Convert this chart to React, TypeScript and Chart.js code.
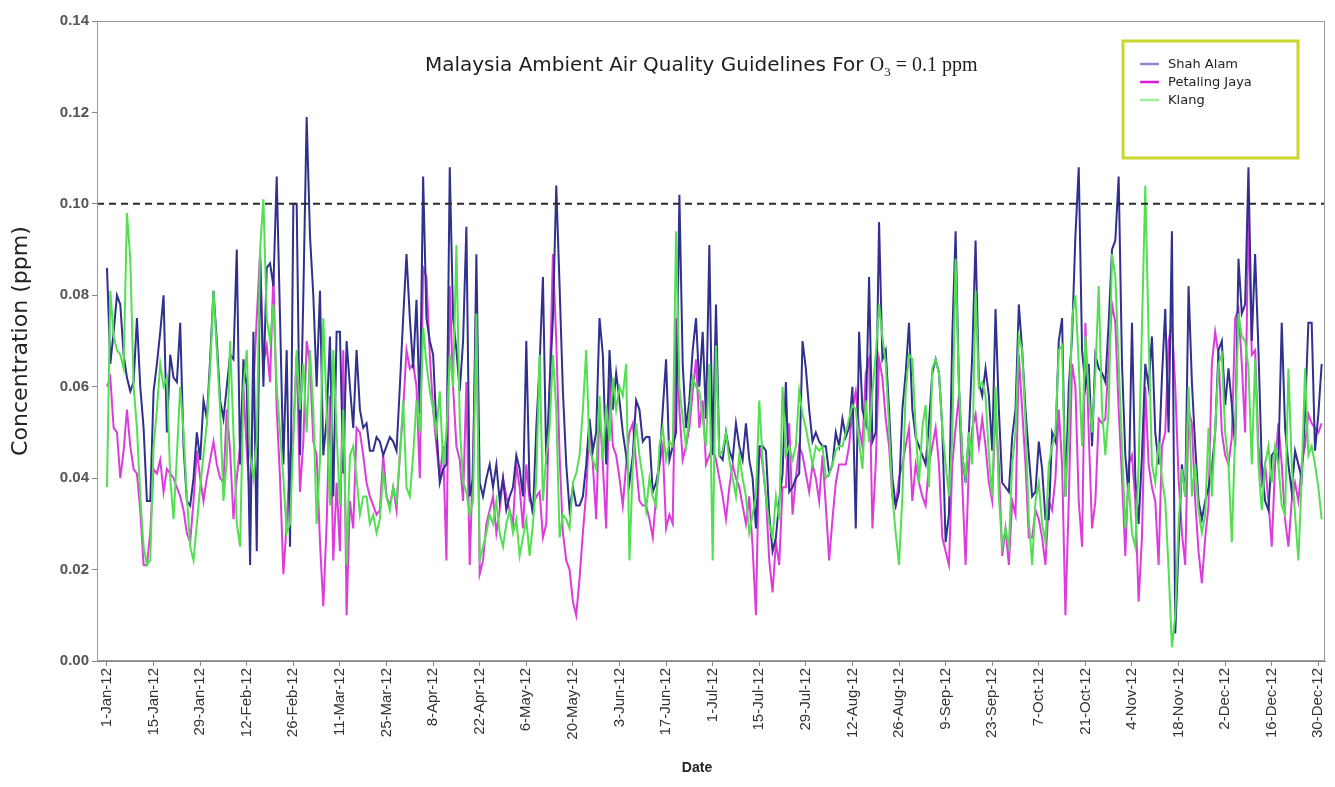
import React, { useEffect, useRef } from "react";
import { Chart, registerables } from "chart.js";

Chart.register(...registerables);

const tickLabels = [
  "1-Jan-12", "15-Jan-12", "29-Jan-12", "12-Feb-12", "26-Feb-12", "11-Mar-12", "25-Mar-12",
  "8-Apr-12", "22-Apr-12", "6-May-12", "20-May-12", "3-Jun-12", "17-Jun-12", "1-Jul-12",
  "15-Jul-12", "29-Jul-12", "12-Aug-12", "26-Aug-12", "9-Sep-12", "23-Sep-12", "7-Oct-12",
  "21-Oct-12", "4-Nov-12", "18-Nov-12", "2-Dec-12", "16-Dec-12", "30-Dec-12",
];
const tickStepDays = 14;

const seriesNames = ["Shah Alam", "Petaling Jaya", "Klang"];

// daily O3 concentration, in ppb (divided by 1000 to give ppm), 1 Jan – 31 Dec 2012
const shahAlam = [
  86, 65, 72, 80, 78, 67, 62, 59, 61, 75, 60, 51, 35, 35,
  59, 65, 72, 80, 50, 67, 62, 61, 74, 47, 35, 34, 40, 50, 44, 57, 53, 66, 81, 70, 57,
  53, 60, 67, 66, 90, 43, 66, 60, 21, 72, 24, 89, 60, 86, 87, 82, 106, 75, 43, 68, 25, 100, 100, 45, 80, 119,
  93, 80, 60, 81, 45, 53, 71, 36, 72, 72, 41,
  70, 60, 51, 68, 55, 51, 52, 46, 46, 49, 48, 45, 47, 49, 48, 46, 60, 75, 89, 75, 64, 79, 54, 106, 75, 70, 67, 51, 39, 42, 43, 108, 75, 68, 59, 70, 95, 36, 40, 89, 39,
  36, 40, 43, 38, 43, 35, 40, 33, 36, 38, 45, 42, 36, 70, 37, 32, 51, 65,
  84, 43, 60, 75, 104, 82, 59, 43, 33, 38, 34, 34, 36, 43, 53, 46, 50, 75, 67, 43, 68, 55, 63, 57, 50, 45, 39, 45, 57, 55, 48, 49, 49, 37, 39, 43, 55, 66, 44, 47, 50, 102,
  65, 51, 57, 68, 75, 60, 72, 53,
  91,
  45, 78, 45, 44, 50, 46, 44, 52, 47, 44, 52, 44, 40,
  29, 47, 47, 46, 32, 24, 27, 35, 41, 61, 37, 38, 40, 41, 70, 64, 55, 48, 50, 48, 47, 47, 41, 43, 50, 47, 53, 49, 51, 60, 29, 72, 55, 52, 84, 48, 50, 96, 66, 68, 55, 40, 34, 37, 55, 63, 74, 55, 49, 47, 45, 43, 52, 63, 66, 63, 51, 26, 32, 71, 94, 60, 45, 39, 50, 67, 92, 61,
  58, 64, 58, 46, 77, 55, 39, 38, 37, 49, 55, 78, 68, 55, 45, 36, 37, 48, 42, 31, 31, 50, 48, 70,
  75, 36, 60, 71, 93, 108, 68, 60, 65, 47, 67, 64, 63, 61, 74, 90, 92, 106, 65, 45, 36, 74, 40, 30, 45, 65, 60, 71, 50, 43, 62, 77, 50, 94, 6, 25, 43, 36, 82, 61, 47, 35, 31, 35, 38, 42, 50, 68, 70, 56, 64, 56, 47, 88, 76, 78, 108, 70, 89, 68, 43, 35, 33, 45,
  46, 44, 74, 51, 43, 37, 46, 43, 40, 54, 74, 74, 46, 54, 65,
];

const petalingJaya = [
  60, 62, 51, 50, 40, 46, 55, 47, 42, 41, 33, 21, 21, 28,
  42, 41, 44, 37, 42, 41, 40, 38, 36, 33, 28, 26, 35, 46, 40, 35, 40, 44, 48, 43, 40,
  39, 55, 46, 31, 40, 47, 60, 46, 35, 60, 75, 89, 65, 69, 61, 85, 55, 40, 19, 30, 45, 50, 67, 37, 48, 70,
  65, 48, 45, 26, 12, 30, 58, 22, 39, 24, 68,
  10, 35, 29, 51, 50, 45, 39, 36, 34, 32, 33, 45, 36, 34, 38, 33, 45, 55, 68, 64, 65, 60, 40, 86, 84, 67, 55, 47, 40, 47, 22, 82, 60, 47, 44, 35, 61, 21, 45, 78, 19,
  22, 30, 33, 36, 28, 33, 40, 36, 33, 30, 43, 38, 29, 43, 35, 34, 36, 37,
  27, 30, 60, 89, 70, 45, 28, 22, 20, 13, 10, 18, 28, 37, 52, 43, 31, 55, 43, 29, 62, 47, 45, 40, 34, 43, 50, 52, 43, 35, 34, 34, 31, 27, 36, 43, 47, 29, 32, 30, 75, 55,
  44, 47, 51, 59, 66, 51, 57, 43,
  45,
  47, 44, 40, 36, 31, 38, 43, 40, 38, 34, 30, 36, 25,
  10, 47, 43, 36, 22, 15, 26, 21, 38, 38, 52, 32, 40, 47, 45, 41, 37, 43, 40, 35, 45, 34, 22, 31, 39, 43, 43, 43, 47, 55, 59, 51, 47, 63, 66, 29, 43, 66, 62, 53, 47, 36, 34, 40, 43, 47, 51, 35, 43, 39, 36, 34, 43, 47, 51, 43, 27, 24, 21, 43, 51, 58, 39, 21, 43, 51, 54, 47,
  53, 47, 39, 35, 55, 43, 23, 29, 21, 35, 32, 67, 55, 43, 27, 27, 33, 31, 27, 21, 35, 33, 40, 55,
  43, 10, 35, 65, 60, 35, 25, 74, 50, 29, 35, 53, 52, 53, 66, 78, 74, 55, 40, 23, 43, 45, 35, 13, 27, 60, 43, 38, 35, 21, 47, 50, 70, 74, 60, 40, 28, 21, 55, 52, 35, 24, 17, 27, 34, 65, 72, 67, 50, 45, 43, 49, 75, 77, 65, 50, 98, 67, 68, 47, 39, 43, 35, 25,
  43, 52, 43, 31, 25, 35, 39, 35, 43, 47, 54, 52, 51, 50, 52,
];

const klang = [
  38, 81, 71, 68, 67, 64, 98, 88, 60, 51, 36, 25, 21, 22,
  47, 55, 65, 60, 62, 40, 31, 45, 60, 50, 36, 25, 22, 30, 38, 45, 52, 64, 81, 68, 55,
  35, 44, 70, 50, 30, 25, 60, 68, 45, 40, 48, 90, 101, 75, 70, 78, 60, 50, 40, 28, 30, 48, 68, 55, 65, 50,
  68, 55, 30, 44, 75, 55, 34, 68, 50, 34, 55,
  21, 45, 47, 40, 32, 36, 36, 30, 32, 28, 31, 41, 36, 33, 38, 35, 45, 57, 38, 36, 45, 57, 50, 73, 65, 59, 55, 50, 59, 43, 50, 67, 60, 91, 52, 39, 37, 32, 35, 76, 22,
  25, 28, 32, 30, 35, 28, 25, 30, 33, 28, 31, 23, 27, 31, 23, 30, 40, 67,
  35, 45, 51, 67, 55, 27, 32, 31, 29, 39, 41, 45, 55, 68, 46, 44, 42, 58, 44, 56, 48, 62, 55, 60, 58, 65, 22, 43, 52, 45, 40, 33, 40, 36, 34, 47, 51, 44, 48, 47, 94, 60,
  53, 47, 54, 62, 60, 59, 53, 47,
  65,
  22, 69, 45, 46, 50, 44, 40, 36, 45, 40, 36, 28, 32,
  36, 57, 44, 36, 30, 27, 36, 31, 60, 45, 47, 44, 47, 59, 54, 51, 47, 43, 47, 46, 47, 40, 41, 43, 46, 47, 47, 50, 53, 56, 55, 48, 42, 57, 48, 59, 67, 78, 71, 65, 51, 36, 28, 21, 36, 59, 67, 66, 51, 39, 51, 56, 38, 64, 66, 63, 51, 43, 36, 49, 88, 60, 45, 40, 50, 43, 81, 60,
  61, 58, 45, 36, 60, 36, 25, 29, 25, 43, 50, 71, 68, 52, 31, 21, 35, 39, 30, 26, 43, 47, 50, 68,
  69, 36, 50, 75, 80, 65, 47, 71, 58, 50, 63, 82, 55, 45, 55, 89, 84, 65, 47, 29, 39, 28, 25, 43, 73, 104, 71, 43, 39, 48, 40, 35, 20, 3, 10, 30, 42, 36, 60, 36, 43, 33, 28, 32, 51, 36, 51, 65, 67, 50, 43, 26, 50, 76, 71, 70, 64, 43, 66, 43, 33, 43, 47, 39,
  47, 43, 34, 32, 64, 43, 32, 22, 40, 64, 45, 47, 43, 38, 31,
];

const guidelineValue = 0.1;
const titleSans = "Malaysia Ambient Air Quality Guidelines For ";
const titleO = "O";
const titleSub = "3";
const titleRest = " = 0.1 ppm";
const yAxisTitle = "Concentration (ppm)";
const xAxisTitle = "Date";

const W = 1335;
const H = 787;

const lineColors = ["#30308e", "#dc3cdc", "#52e052"];
const legendColors = ["#8a8ad0", "#d81ed8", "#9ef09e"];
const SANS = "'DejaVu Sans'";
const SANS_WEIGHT = "normal";

function fitSize(text: string, family: string, target: number, weight = "normal") {
  const c = document.createElement("canvas").getContext("2d")!;
  c.font = `${weight} 100px ${family}`;
  const w = c.measureText(text).width;
  return (100 * target) / w;
}

export default function App() {
  const ref = useRef<HTMLCanvasElement | null>(null);

  useEffect(() => {
    const canvas = ref.current;
    if (!canvas) return;
    const titleSize = fitSize(titleSans, SANS, 445, SANS_WEIGHT);
    const yTitleSize = fitSize(yAxisTitle, SANS, 230, SANS_WEIGHT);
    const legendSize = fitSize("Petaling Jaya", SANS, 84, SANS_WEIGHT);

    const tickValues = tickLabels.map((_, i) => i * tickStepDays);
    const toPoints = (arr: number[]) => arr.map((v, i) => ({ x: i, y: v / 1000 }));

    const overlay = {
      id: "overlay",
      afterDatasetsDraw(chart: any) {
        const { ctx, chartArea, scales } = chart;
        const y = scales.y.getPixelForValue(guidelineValue);
        ctx.save();
        ctx.setLineDash([7, 5]);
        ctx.strokeStyle = "#2a2a2a";
        ctx.lineWidth = 2;
        ctx.beginPath();
        ctx.moveTo(chartArea.left, y);
        ctx.lineTo(chartArea.right, y);
        ctx.stroke();
        ctx.restore();
      },
      afterDraw(chart: any) {
        const { ctx, chartArea } = chart;
        ctx.save();
        ctx.strokeStyle = "#9a9a9a";
        ctx.lineWidth = 1;
        ctx.strokeRect(chartArea.left + 0.5, chartArea.top + 0.5, chartArea.width - 1, chartArea.height - 1);

        // x-axis title
        ctx.fillStyle = "#222";
        ctx.font = "bold 14px 'Liberation Sans'";
        ctx.textAlign = "center";
        ctx.textBaseline = "middle";
        ctx.fillText(xAxisTitle, 697, 768);

        // title inside plot
        ctx.fillStyle = "#1e1e1e";
        ctx.textBaseline = "alphabetic";
        ctx.textAlign = "left";
        let x = 425;
        const base = 71;
        ctx.font = `${SANS_WEIGHT} ${titleSize}px ${SANS}`;
        ctx.fillText(titleSans, x, base);
        x += ctx.measureText(titleSans).width;
        ctx.font = "20px 'Liberation Serif'";
        ctx.fillText(titleO, x, base);
        x += ctx.measureText(titleO).width;
        ctx.font = "13px 'Liberation Serif'";
        ctx.fillText(titleSub, x, base + 5);
        x += ctx.measureText(titleSub).width;
        ctx.font = "20px 'Liberation Serif'";
        ctx.fillText(titleRest, x, base);

        // legend box
        const bx = 1123, by = 41, bw = 175, bh = 117;
        ctx.fillStyle = "#ffffff";
        ctx.fillRect(bx, by, bw, bh);
        ctx.strokeStyle = "#cbd52c";
        ctx.lineWidth = 3;
        ctx.strokeRect(bx, by, bw, bh);
        ctx.font = `${SANS_WEIGHT} ${legendSize}px ${SANS}`;
        ctx.textBaseline = "middle";
        seriesNames.forEach((name, i) => {
          const ly = 64 + i * 18;
          ctx.strokeStyle = legendColors[i];
          ctx.lineWidth = 2.5;
          ctx.beginPath();
          ctx.moveTo(1140, ly);
          ctx.lineTo(1159, ly);
          ctx.stroke();
          ctx.fillStyle = "#222";
          ctx.fillText(name, 1168, ly + 1);
        });
        ctx.restore();
      },
    };

    const chart = new Chart(canvas, {
      type: "line",
      data: {
        datasets: [
          { label: seriesNames[2], data: toPoints(klang), borderColor: lineColors[2], borderWidth: 2, pointRadius: 0, order: 1 },
          { label: seriesNames[0], data: toPoints(shahAlam), borderColor: lineColors[0], borderWidth: 2, pointRadius: 0, order: 2 },
          { label: seriesNames[1], data: toPoints(petalingJaya), borderColor: lineColors[1], borderWidth: 2, pointRadius: 0, order: 3 },
        ],
      },
      options: {
        responsive: false,
        animation: false,
        devicePixelRatio: 1,
        layout: { padding: { left: 0, right: 10, top: 21, bottom: 0 } },
        plugins: { legend: { display: false }, tooltip: { enabled: false } },
        scales: {
          x: {
            type: "linear",
            min: -3,
            max: 366,
            afterBuildTicks: (scale: any) => {
              scale.ticks = tickValues.map((v) => ({ value: v }));
            },
            afterFit: (scale: any) => {
              scale.height = 126;
              scale.paddingLeft = 0;
              scale.paddingRight = 0;
            },
            ticks: {
              autoSkip: false,
              maxRotation: 90,
              minRotation: 90,
              padding: 2,
              color: "#333",
              font: { family: "'Liberation Sans'", size: 15 },
              callback: (value: any) => {
                const idx = tickValues.indexOf(Number(value));
                return idx >= 0 ? tickLabels[idx] : "";
              },
            },
            grid: { display: true, drawOnChartArea: false, drawTicks: true, tickLength: 5, color: "#888" },
            border: { display: true, color: "#888", width: 1 },
          },
          y: {
            type: "linear",
            min: 0,
            max: 0.14,
            afterFit: (scale: any) => {
              scale.width = 97;
            },
            ticks: {
              stepSize: 0.02,
              padding: 3,
              color: "#555",
              font: { family: "'Liberation Sans'", size: 15, weight: "bold" },
              callback: (value: any) => Number(value).toFixed(2),
            },
            grid: { display: true, drawOnChartArea: false, drawTicks: true, tickLength: 5, color: "#888" },
            border: { display: true, color: "#888", width: 1 },
            title: {
              display: true,
              text: yAxisTitle,
              color: "#222",
              font: { family: SANS, size: yTitleSize, weight: SANS_WEIGHT },
              padding: { top: 8, bottom: 0 },
            },
          },
        },
      },
      plugins: [overlay],
    } as any);

    return () => chart.destroy();
  }, []);

  return (
    <div style={{ position: "fixed", left: 0, top: 0, width: W, height: H, background: "#ffffff" }}>
      <canvas ref={ref} width={W} height={H} style={{ display: "block", width: W, height: H }} />
    </div>
  );
}
